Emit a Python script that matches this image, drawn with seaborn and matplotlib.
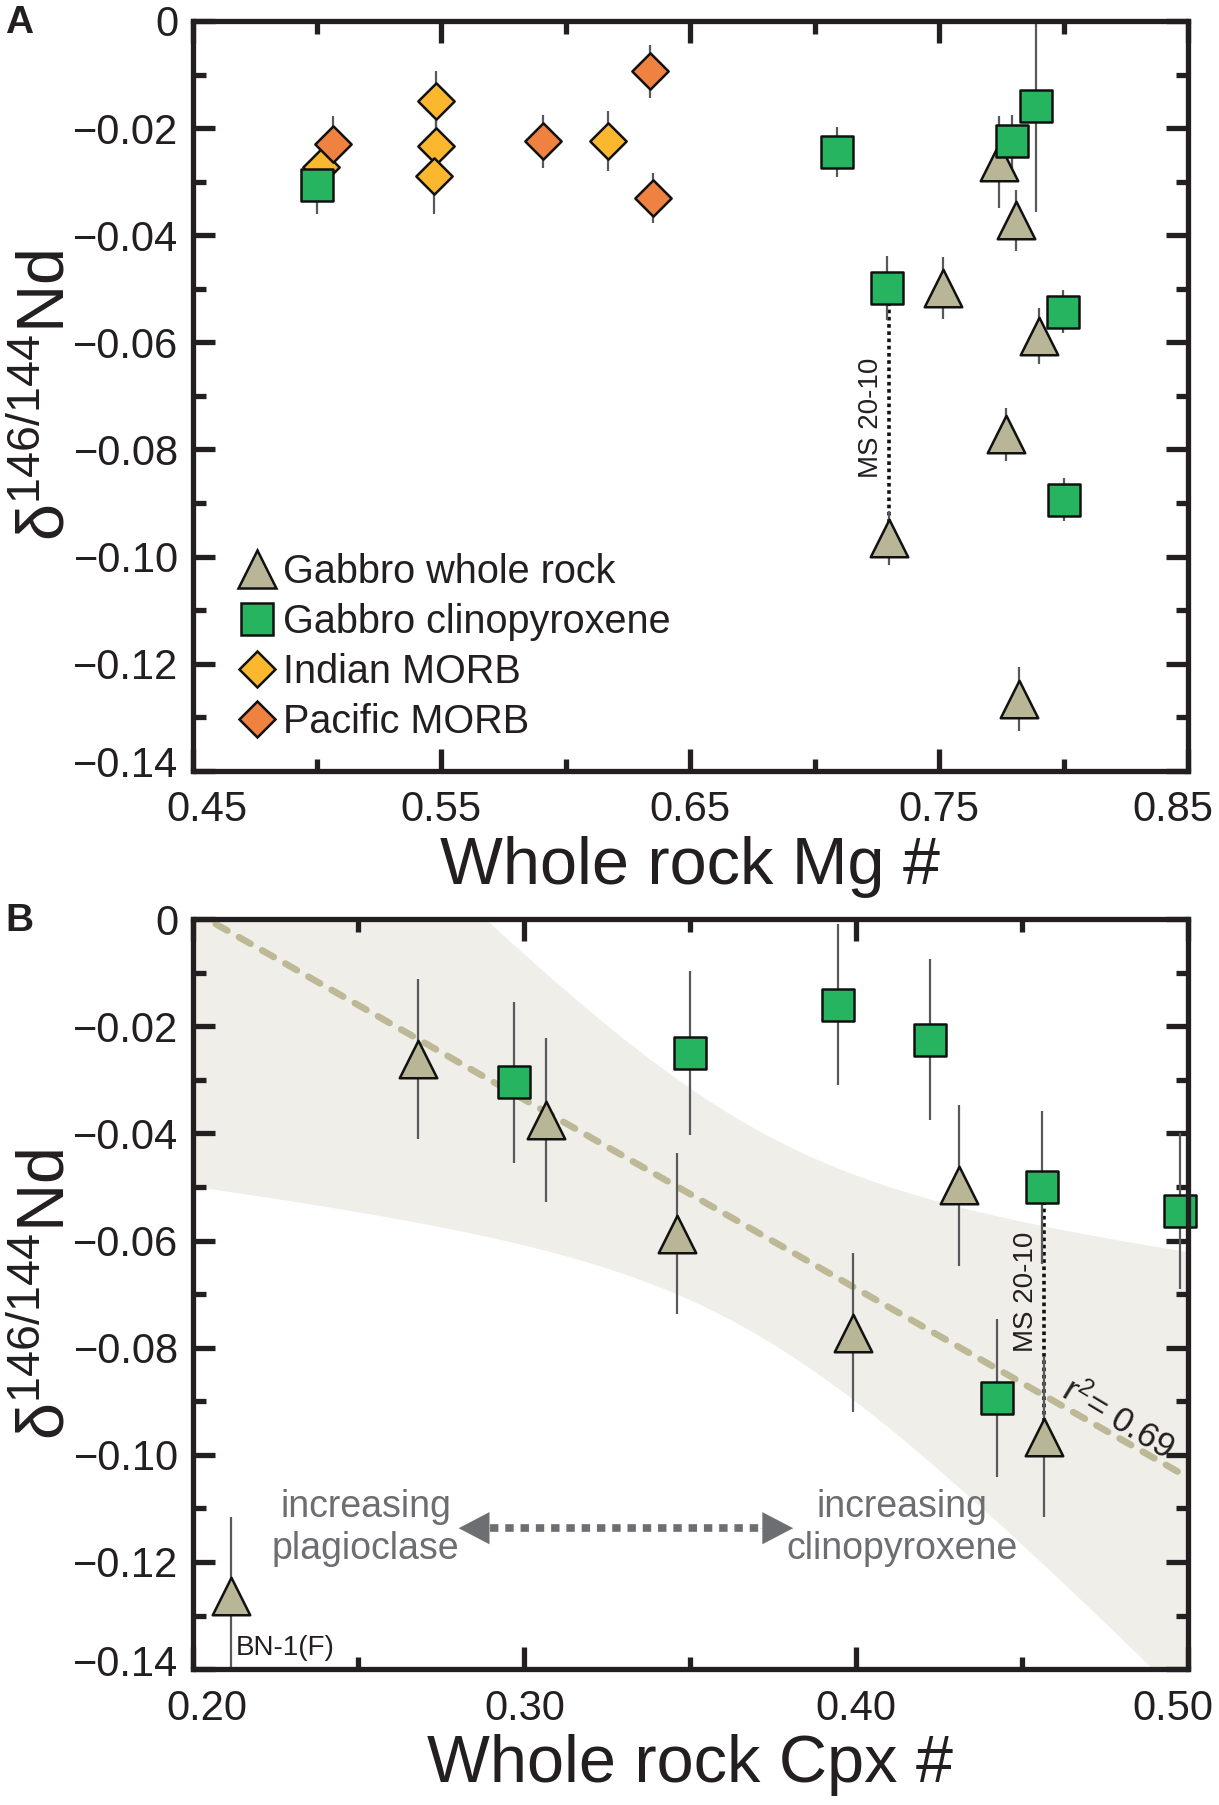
import numpy as np
import pandas as pd
import matplotlib
matplotlib.use("Agg")
import matplotlib.pyplot as plt
import seaborn as sns
from matplotlib.lines import Line2D
from matplotlib.transforms import ScaledTranslation

# ---------------- panel A : whole rock Mg # ----------------
wr_mg = [0.774, 0.781, 0.7516, 0.790, 0.777, 0.730, 0.782]
wr_nd_a = [-0.0264, -0.0372, -0.0498, -0.0588, -0.0772, -0.0965, -0.1266]
wr_err_a = [0.0086, 0.0057, 0.0058, 0.0053, 0.0050, 0.0050, 0.0060]

cpx_mg = [0.500, 0.709, 0.789, 0.7795, 0.729, 0.7997, 0.800]
cpx_nd_a = [-0.0306, -0.0245, -0.0159, -0.0225, -0.0498, -0.0543, -0.0894]
cpx_err_a = [0.0055, 0.0047, 0.0197, 0.0050, 0.0060, 0.0040, 0.0040]

ind_mg = [0.5015, 0.5477, 0.5477, 0.5470, 0.617]
ind_nd = [-0.0272, -0.0149, -0.0234, -0.0290, -0.0225]
ind_err = [0.0050, 0.0055, 0.0050, 0.0070, 0.0056]

pac_mg = [0.5066, 0.591, 0.634, 0.635]
pac_nd = [-0.0230, -0.0225, -0.0094, -0.0330]
pac_err = [0.0052, 0.0050, 0.0050, 0.0047]

# ---------------- panel B : whole rock Cpx # ----------------
wr_cpx = [0.268, 0.3064, 0.431, 0.3461, 0.399, 0.4567, 0.2117]
wr_nd_b = [-0.0261, -0.0375, -0.0497, -0.0587, -0.0772, -0.0966, -0.1263]
wr_err_b = [0.0150, 0.0153, 0.0150, 0.0150, 0.0149, 0.0150, 0.0146]
wr_name = ["", "", "", "", "", "MS 20-10", "BN-1(F)"]

cpx_cpx = [0.2968, 0.3500, 0.3944, 0.4222, 0.4561, 0.4977, 0.4424]
cpx_nd_b = [-0.0305, -0.0250, -0.0160, -0.0225, -0.0501, -0.0545, -0.0894]
cpx_err_b = [0.0150, 0.0153, 0.0150, 0.0150, 0.0143, 0.0145, 0.0147]
cpx_name = ["", "", "", "", "MS 20-10", "", ""]

# ---------------- ticks ----------------
xticks_a = [0.45, 0.55, 0.65, 0.75, 0.85]
xminor_a = [0.50, 0.60, 0.70, 0.80]
xticks_b = [0.20, 0.30, 0.40, 0.50]
xminor_b = [0.25, 0.35, 0.45]
yticks = [-0.14, -0.12, -0.10, -0.08, -0.06, -0.04, -0.02, 0.0]
yminor = [-0.13, -0.11, -0.09, -0.07, -0.05, -0.03, -0.01]
ytick_labels = ["\u22120.14", "\u22120.12", "\u22120.10", "\u22120.08",
                "\u22120.06", "\u22120.04", "\u22120.02", "0"]

groups = ["Gabbro whole rock", "Gabbro clinopyroxene", "Indian MORB", "Pacific MORB"]
markers = {"Gabbro whole rock": "^", "Gabbro clinopyroxene": "s",
           "Indian MORB": "D", "Pacific MORB": "D"}
msizes = {"Gabbro whole rock": 27, "Gabbro clinopyroxene": 23,
          "Indian MORB": 18.5, "Pacific MORB": 18.5}
colors = {"Gabbro whole rock": "#b9b597", "Gabbro clinopyroxene": "#27b461",
          "Indian MORB": "#fbb82e", "Pacific MORB": "#ef8240"}
zorders = {"Gabbro whole rock": 3, "Indian MORB": 4, "Pacific MORB": 5,
           "Gabbro clinopyroxene": 6}

TXT = "#231f20"
GREY = "#6d6e71"

sns.set_theme(style="ticks")
plt.rcParams["font.family"] = ["Liberation Sans", "DejaVu Sans"]
plt.rcParams["mathtext.fontset"] = "custom"
plt.rcParams["mathtext.rm"] = "Liberation Sans"
plt.rcParams["mathtext.it"] = "Liberation Sans:italic"
plt.rcParams["mathtext.bf"] = "Liberation Sans:bold"


def make_df(parts):
    rows = []
    for g, xs, ys, es in parts:
        for x, y, e in zip(xs, ys, es):
            rows.append({"group": g, "x": x, "y": y, "err": e})
    return pd.DataFrame(rows)


df_a = make_df([("Gabbro whole rock", wr_mg, wr_nd_a, wr_err_a),
                ("Gabbro clinopyroxene", cpx_mg, cpx_nd_a, cpx_err_a),
                ("Indian MORB", ind_mg, ind_nd, ind_err),
                ("Pacific MORB", pac_mg, pac_nd, pac_err)])
df_b = make_df([("Gabbro whole rock", wr_cpx, wr_nd_b, wr_err_b),
                ("Gabbro clinopyroxene", cpx_cpx, cpx_nd_b, cpx_err_b)])


def shift(txt, dx, dy):
    txt.set_transform(txt.get_transform() +
                      ScaledTranslation(dx, dy, fig.dpi_scale_trans))


def style_axis(ax, xt, xm, xlabel):
    ax.set_xlim(xt[0], xt[-1])
    ax.set_ylim(yticks[0], yticks[-1])
    ax.set_xticks(xt, [f"{v:.2f}" for v in xt])
    ax.set_xticks(xm, minor=True)
    ax.set_yticks(yticks, ytick_labels)
    ax.set_yticks(yminor, minor=True)
    for s in ax.spines.values():
        s.set_linewidth(3.8)
        s.set_color(TXT)
        s.set_zorder(10)
    ax.tick_params(which="both", direction="in", top=True, right=True,
                   width=3.8, color=TXT, labelcolor=TXT, labelsize=30)
    ax.tick_params(which="major", length=16)
    ax.tick_params(which="minor", length=9)
    ax.tick_params(axis="x", which="both", pad=14)
    ax.tick_params(axis="y", which="both", pad=10)
    ax.set_xlabel(xlabel, fontsize=48, color=TXT, labelpad=4)
    ax.set_ylabel(r"$\mathrm{\delta^{146/144}Nd}$", fontsize=48, color=TXT)
    ax.yaxis.set_label_coords(-0.115, 0.5)
    # end labels pulled inward as in the original
    xl = ax.get_xticklabels()
    shift(xl[0], 0.14, 0)
    shift(xl[-1], -0.15, 0)
    yl = ax.get_yticklabels()
    shift(yl[0], 0, 0.09)


def draw_points(ax, df):
    for g in groups:
        sub = df[df["group"] == g]
        if sub.empty:
            continue
        ax.errorbar(sub["x"], sub["y"], yerr=sub["err"], fmt="none",
                    ecolor="#58595b", elinewidth=1.6, capsize=0, zorder=2)
        sns.scatterplot(data=sub, x="x", y="y", ax=ax, marker=markers[g],
                        s=msizes[g] ** 2, color=colors[g], edgecolor="#111111",
                        linewidth=1.8, zorder=zorders[g], clip_on=False,
                        legend=False)


fig = plt.figure(figsize=(12.19, 18.05), dpi=100)
ax_a = fig.add_axes([0.158, 0.5729, 0.8165, 0.4155])
ax_b = fig.add_axes([0.158, 0.0753, 0.8165, 0.4155])

# ---------------- panel A ----------------
draw_points(ax_a, df_a)
ms_wr = wr_name.index("MS 20-10")
ms_cpx = cpx_name.index("MS 20-10")
ax_a.plot([wr_mg[ms_wr], wr_mg[ms_wr]], [cpx_nd_a[ms_cpx], wr_nd_a[ms_wr]],
          ls=(0, (1, 1)), color="#111111", lw=2.6, zorder=1.5)
ax_a.annotate("MS 20-10", xy=(wr_mg[ms_wr], -0.074), xytext=(-4, 0),
              textcoords="offset points", rotation=90, ha="right",
              va="center", fontsize=20, color=TXT)
style_axis(ax_a, xticks_a, xminor_a, "Whole rock Mg #")

handles = [Line2D([], [], ls="none", marker=markers[g], ms=msizes[g],
                  mfc=colors[g], mec="#111111", mew=1.8) for g in groups]
ax_a.legend(handles, groups, loc="lower left", bbox_to_anchor=(0.045, 0.04),
            frameon=False, borderpad=0, borderaxespad=0, handlelength=1.0,
            handletextpad=0.15, labelspacing=0.3, fontsize=28.5,
            labelcolor=TXT)

# ---------------- panel B ----------------
# reduced major axis fit of the whole rock data (BN-1(F) excluded)
fit_x = np.array([x for x, n in zip(wr_cpx, wr_name) if n != "BN-1(F)"])
fit_y = np.array([y for y, n in zip(wr_nd_b, wr_name) if n != "BN-1(F)"])
n = len(fit_x)
r = np.corrcoef(fit_x, fit_y)[0, 1]
slope = np.sign(r) * fit_y.std(ddof=1) / fit_x.std(ddof=1)
icpt = fit_y.mean() - slope * fit_x.mean()
resid = fit_y - (icpt + slope * fit_x)
s_res = np.sqrt((resid ** 2).sum() / (n - 2))
sxx = ((fit_x - fit_x.mean()) ** 2).sum()
t_crit = 2.776  # 95 %, 4 degrees of freedom
gx = np.linspace(xticks_b[0], xticks_b[-1], 200)
gy = icpt + slope * gx
half = t_crit * s_res * np.sqrt(1 / n + (gx - fit_x.mean()) ** 2 / sxx)
ax_b.fill_between(gx, gy - half, gy + half, color="#efeee8", lw=0, zorder=0.5)
sns.lineplot(x=gx, y=gy, ax=ax_b, color="#bdb996", lw=4.8, zorder=1)
ax_b.lines[-1].set_dashes([2.0, 2.0])
ax_b.lines[-1].set_dash_capstyle("round")

draw_points(ax_b, df_b)
ax_b.plot([wr_cpx[ms_wr], wr_cpx[ms_wr]], [cpx_nd_b[ms_cpx], wr_nd_b[ms_wr]],
          ls=(0, (1, 1)), color="#111111", lw=2.6, zorder=1.5)
ax_b.annotate("MS 20-10", xy=(wr_cpx[ms_wr], -0.0695), xytext=(-4, 0),
              textcoords="offset points", rotation=90, ha="right",
              va="center", fontsize=20, color=TXT)
bn = wr_name.index("BN-1(F)")
ax_b.annotate("BN-1(F)", xy=(wr_cpx[bn], -0.136), xytext=(3, 0),
              textcoords="offset points", ha="left", va="center",
              fontsize=20, color=TXT)
ax_b.text(0.4787, -0.0934, f"r$^{{2}}$= {r ** 2:.2f}", rotation=-31,
          ha="center", va="center", fontsize=25, color=TXT,
          rotation_mode="anchor")

# composition arrow
arrow_y = -0.1137
ax_b.plot([0.2895, 0.3717], [arrow_y, arrow_y], ls=(0, (1.1, 0.9)),
          color=GREY, lw=5.5, zorder=1.2, solid_capstyle="butt")
for tip, tail in [(0.2802, 0.2902), (0.381, 0.371)]:
    ax_b.annotate("", xy=(tip, arrow_y), xytext=(tail, arrow_y),
                  arrowprops=dict(arrowstyle="-|>,head_length=2.2,head_width=1.15",
                                  color=GREY, lw=0.1, shrinkA=0, shrinkB=0,
                                  mutation_scale=10),
                  zorder=1.3)
ax_b.text(0.2521, arrow_y, "increasing\nplagioclase", ha="center", va="center",
          fontsize=27, color=GREY, linespacing=1.2)
ax_b.text(0.4137, arrow_y, "increasing\nclinopyroxene", ha="center",
          va="center", fontsize=27, color=GREY, linespacing=1.2)

style_axis(ax_b, xticks_b, xminor_b, "Whole rock Cpx #")

fig.text(0.004, 0.997, "A", fontsize=28, fontweight="bold", color=TXT,
         ha="left", va="top")
fig.text(0.004, 0.4995, "B", fontsize=28, fontweight="bold", color=TXT,
         ha="left", va="top")

fig.savefig("out.png", dpi=100, facecolor="white")
